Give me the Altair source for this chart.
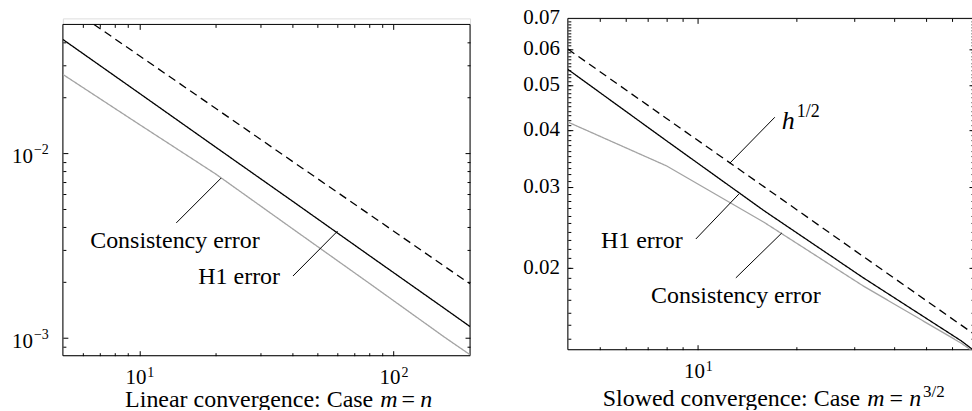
import altair as alt
import pandas as pd

FONT = "Liberation Serif"
GRAY = "#a3a3a3"
TICK_COLOR = "black"
TICK_W = 1

# ---------------- Left panel: linear convergence, case m = n ----------------
L_n = [5, 10, 20, 40, 80, 160, 200]
L_h1 = [0.0413, 0.0211, 0.01076, 0.0055, 0.0028, 0.00143, 0.00115]
L_cons = [0.0267, 0.0143, 0.0077, 0.0039, 0.00198, 0.00100, 0.00081]
L_ref_n = [6.63, 10, 20, 40, 80, 160, 200]
L_ref = [0.0498, 0.0337, 0.01745, 0.00903, 0.00468, 0.00242, 0.00196]

L_xdom = [5, 200]
L_ydom = [0.0008, 0.0537]          # plot area; the frame top is at 0.0498
L_frame_y = [0.0008, 0.0498]
L_xmajor = [10, 100]
L_xmajor_sup = ["1", "2"]
L_xminor = [6, 7, 8, 9, 20, 30, 40, 50, 60, 70, 80, 90]
L_ymajor = [0.001, 0.01]
L_ymajor_sup = ["\u22123", "\u22122"]
L_yminor = [0.0009, 0.002, 0.003, 0.004, 0.005, 0.006, 0.007, 0.008, 0.009,
            0.02, 0.03, 0.04]

L_lead_n1 = [13.97, 40.2]
L_lead_v1 = [0.00419, 0.00216]
L_lead_n2 = [20.97, 60.3]
L_lead_v2 = [0.00733, 0.00379]
L_lab_n = [13.8, 24.7]
L_lab_v = [0.00306, 0.00196]
L_lab_t = ["Consistency error", "H1 error"]

# ---------------- Right panel: slowed convergence, case m = n^(3/2) ----------------
R_n = [4, 8, 16, 32, 64, 70]
R_h1 = [0.0542, 0.0379, 0.0266, 0.01905, 0.01386, 0.0132]
R_cons = [0.0416, 0.0334, 0.0251, 0.01828, 0.0137, 0.0131]
R_ref = [0.0600, 0.0424, 0.0300, 0.0212, 0.0150, 0.01435]

R_xdom = [4, 70]
R_ydom = [0.01326, 0.07]
R_xmajor = [10]
R_xmajor_sup = ["1"]
R_xminor = [5, 6, 7, 8, 9, 20, 30, 40, 50, 60]
R_ymajor = [0.02, 0.03, 0.04, 0.05, 0.06]
R_ylabels = [0.02, 0.03, 0.04, 0.05, 0.06, 0.07]
R_yminor = [round(0.014 + 0.001 * i, 3) for i in range(56)]

R_lead_n1 = [12.53, 9.86, 13.07]
R_lead_v1 = [0.03384, 0.02312, 0.01902]
R_lead_n2 = [17.2, 13.35, 18.07]
R_lead_v2 = [0.04261, 0.02897, 0.02383]
R_lab_n = [6.74, 13.07]
R_lab_v = [0.0221, 0.01678]
R_lab_t = ["H1 error", "Consistency error"]
R_h_n = [18.07]
R_h_v = [0.04013]

# axis-title pieces: (text, italic, fontSize, align, x from plot left, baseline y from plot top)
L_title = [("Linear convergence:  Case", False, 24, "right", 311, 389),
           ("m", True, 24, "left", 318, 389),
           ("=", False, 24, "center", 346, 389),
           ("n", True, 24, "left", 358, 389)]
R_title = [("Slowed convergence:  Case", False, 24, "right", 293, 388),
           ("m", True, 24, "left", 300, 388),
           ("=", False, 24, "center", 329, 388),
           ("n", True, 24, "left", 342, 388),
           ("3/2", False, 17, "left", 356, 379)]

MAJOR = 5
MINOR = 3


def series_df(n, vals, name):
    return pd.DataFrame({"n": n, "v": vals, "s": name})


def text_layer(df, **kw):
    base = dict(font=FONT, color="black", baseline="alphabetic")
    base.update(kw)
    return alt.Chart(df).mark_text(**base)


def tick_axis(orient, values, size, offset):
    # ticks only, pulled inside the frame by a negative offset
    return alt.Axis(orient=orient, values=values, labels=False, domain=False, grid=False,
                    ticks=True, tickSize=size, tickColor=TICK_COLOR, tickWidth=TICK_W,
                    offset=offset, title=None)


def panel(xdom, fy, xs, ys, series, xmajor, xmajor_sup, xminor, ymajor, yminor,
          leads, labels, title, top_gap):
    NX = lambda f: alt.X(f, scale=xs, axis=None)
    NY = lambda f: alt.Y(f, scale=ys, axis=None)
    layers = []
    frame = pd.DataFrame({
        "x1": [xdom[0], xdom[0], xdom[0], xdom[1]],
        "x2": [xdom[1], xdom[1], xdom[0], xdom[1]],
        "y1": [fy[0], fy[1], fy[0], fy[0]],
        "y2": [fy[0], fy[1], fy[1], fy[1]],
    })
    # frame carries the major ticks on bottom / left
    layers.append(alt.Chart(frame).mark_rule(color="black", strokeWidth=1).encode(
        x=alt.X("x1:Q", scale=xs, axis=tick_axis("bottom", xmajor, MAJOR, -MAJOR)), x2="x2:Q",
        y=alt.Y("y1:Q", scale=ys, axis=tick_axis("left", ymajor, MAJOR, -MAJOR)), y2="y2:Q",
    ))
    # the three series carry the remaining tick sets
    tick_sets = [
        (("top", xmajor, MAJOR, -(top_gap + MAJOR)), ("right", ymajor, MAJOR, -MAJOR)),
        (("bottom", xminor, MINOR, -MINOR), ("left", yminor, MINOR, -MINOR)),
        (("top", xminor, MINOR, -(top_gap + MINOR)), ("right", yminor, MINOR, -MINOR)),
    ]
    for (df, color, dash), (ax, ay) in zip(series, tick_sets):
        layers.append(alt.Chart(df).mark_line(
            color=color, strokeWidth=1.3, clip=True, strokeDash=dash
        ).encode(x=alt.X("n:Q", scale=xs, axis=tick_axis(*ax)),
                 y=alt.Y("v:Q", scale=ys, axis=tick_axis(*ay))))
    # x tick labels 10^k
    xl = pd.DataFrame({"t": xmajor, "sup": xmajor_sup, "base": ["10"] * len(xmajor)})
    yb = alt.YDatum(fy[0], scale=ys, axis=None)
    layers.append(text_layer(xl, fontSize=21, align="right", dx=7, dy=28).encode(
        x=NX("t:Q"), y=yb, text="base:N"))
    layers.append(text_layer(xl, fontSize=14, align="left", dx=8, dy=21).encode(
        x=NX("t:Q"), y=yb, text="sup:N"))
    # leader lines and labels
    ldf = pd.DataFrame({"n1": leads[0], "v1": leads[1], "n2": leads[2], "v2": leads[3]})
    layers.append(alt.Chart(ldf).mark_rule(color="black", strokeWidth=1).encode(
        x=NX("n1:Q"), y=NY("v1:Q"), x2="n2:Q", y2="v2:Q"))
    tdf = pd.DataFrame({"n": labels[0], "v": labels[1], "t": labels[2]})
    layers.append(text_layer(tdf, fontSize=24, align="center").encode(
        x=NX("n:Q"), y=NY("v:Q"), text="t:N"))
    # axis title, piece by piece (roman text with italic math)
    for txt, ital, fs, al, px, py in title:
        kw = dict(fontSize=fs, align=al)
        if ital:
            kw["fontStyle"] = "italic"
        layers.append(text_layer(pd.DataFrame({"t": [txt]}), **kw).encode(
            x=alt.value(px), y=alt.value(py), text="t:N"))
    return layers, NX, NY


# ---------- left ----------
Lxs = alt.Scale(type="log", domain=L_xdom, nice=False)
Lys = alt.Scale(type="log", domain=L_ydom, nice=False)
left_series = [
    (series_df(L_ref_n, L_ref, "ref"), "black", [8, 5]),
    (series_df(L_n, L_h1, "h1"), "black", [1, 0]),
    (series_df(L_n, L_cons, "cons"), GRAY, [1, 0]),
]
left_layers, LNX, LNY = panel(
    L_xdom, L_frame_y, Lxs, Lys, left_series, L_xmajor, L_xmajor_sup, L_xminor,
    L_ymajor, L_yminor, (L_lead_n1, L_lead_v1, L_lead_n2, L_lead_v2),
    (L_lab_n, L_lab_v, L_lab_t), L_title, 6)
yl = pd.DataFrame({"t": L_ymajor, "sup": L_ymajor_sup, "base": ["10"] * 2})
xl0 = alt.XDatum(L_xdom[0], scale=Lxs, axis=None)
left_layers.append(text_layer(yl, fontSize=21, align="right", dx=-30, dy=10).encode(
    y=LNY("t:Q"), x=xl0, text="base:N"))
left_layers.append(text_layer(yl, fontSize=14, align="left", dx=-29, dy=1).encode(
    y=LNY("t:Q"), x=xl0, text="sup:N"))
left = alt.layer(*left_layers).resolve_axis(x="independent", y="independent").properties(
    width=408, height=338)

# ---------- right ----------
Rxs = alt.Scale(type="log", domain=R_xdom, nice=False)
Rys = alt.Scale(type="log", domain=R_ydom, nice=False)
right_series = [
    (series_df(R_n, R_ref, "ref"), "black", [8, 5]),
    (series_df(R_n, R_h1, "h1"), "black", [1, 0]),
    (series_df(R_n, R_cons, "cons"), GRAY, [1, 0]),
]
right_layers, RNX, RNY = panel(
    R_xdom, R_ydom, Rxs, Rys, right_series, R_xmajor, R_xmajor_sup, R_xminor,
    R_ymajor, R_yminor, (R_lead_n1, R_lead_v1, R_lead_n2, R_lead_v2),
    (R_lab_n, R_lab_v, R_lab_t), R_title, 0)
ylr = pd.DataFrame({"t": R_ylabels})
xr0 = alt.XDatum(R_xdom[0], scale=Rxs, axis=None)
right_layers.append(text_layer(ylr, fontSize=21, align="right", baseline="middle", dx=-8).encode(
    y=RNY("t:Q"), x=xr0, text=alt.Text("t:Q", format=".2f")))
hdf = pd.DataFrame({"n": R_h_n, "v": R_h_v, "t": ["h"], "sup": ["1/2"]})
right_layers.append(text_layer(hdf, fontSize=26, fontStyle="italic", align="left").encode(
    x=RNX("n:Q"), y=RNY("v:Q"), text="t:N"))
right_layers.append(text_layer(hdf, fontSize=18, align="left", dx=15, dy=-12).encode(
    x=RNX("n:Q"), y=RNY("v:Q"), text="sup:N"))
right = alt.layer(*right_layers).resolve_axis(x="independent", y="independent").properties(
    width=407, height=332)

chart = alt.hconcat(left, right, spacing=98, bounds="flush").properties(
    padding={"left": 11, "top": 6, "right": -3, "bottom": -3}
).configure_view(stroke=None).configure(background="white")

chart.save("out.html", embed_options={"renderer": "svg", "actions": False})
